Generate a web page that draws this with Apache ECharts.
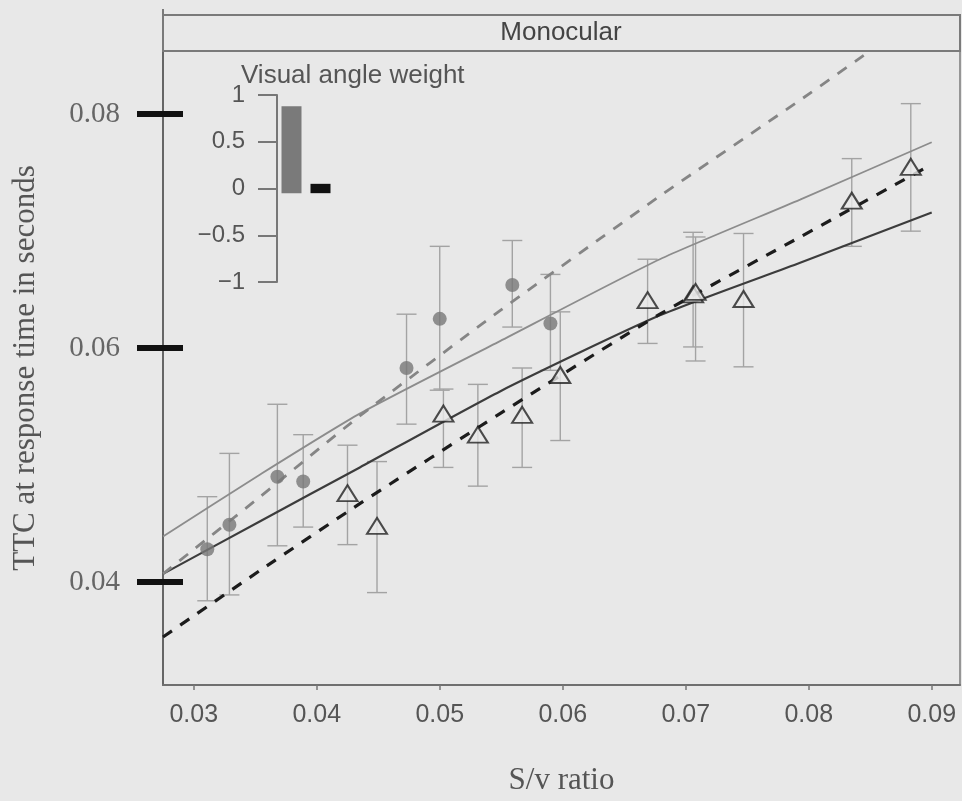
<!DOCTYPE html>
<html>
<head>
<meta charset="utf-8">
<script src="https://cdn.jsdelivr.net/npm/echarts@6.0.0/dist/echarts.min.js"></script>
<style>
  html, body { margin: 0; background: #e8e8e8; }
  #chart { width: 962px; height: 801px; }
</style>
</head>
<body>
<div id="chart"></div>
<script>
// 数据
var xTicks = [0.03, 0.04, 0.05, 0.06, 0.07, 0.08, 0.09];
var yTicks = [0.04, 0.06, 0.08];

// filled grey circles
var circleX  = [0.0311, 0.0329, 0.0368, 0.0389, 0.0473, 0.0500, 0.0559, 0.0590];
var circleY  = [0.0428, 0.0449, 0.0490, 0.0486, 0.0583, 0.0625, 0.0654, 0.0621];
var circleHi = [0.0473, 0.0510, 0.0552, 0.0526, 0.0629, 0.0687, 0.0692, 0.0663];
var circleLo = [0.0384, 0.0389, 0.0431, 0.0447, 0.0535, 0.0564, 0.0618, 0.0581];

// open triangles
var triX  = [0.0425, 0.0449, 0.0503, 0.0531, 0.0567, 0.0598, 0.0669, 0.0706, 0.0708, 0.0747, 0.0835, 0.0883];
var triY  = [0.0476, 0.0448, 0.0544, 0.0526, 0.0543, 0.0577, 0.0641, 0.0646, 0.0648, 0.0642, 0.0726, 0.0755];
var triHi = [0.0517, 0.0503, 0.0565, 0.0569, 0.0583, 0.0631, 0.0676, 0.0699, 0.0695, 0.0698, 0.0762, 0.0809];
var triLo = [0.0432, 0.0391, 0.0498, 0.0482, 0.0498, 0.0521, 0.0604, 0.0601, 0.0589, 0.0584, 0.0687, 0.0700];

// fitted lines
var fitX       = [0.0275, 0.0354, 0.0435, 0.0549, 0.0679, 0.0793, 0.0900];
var greySolidY = [0.0439, 0.0492, 0.0544, 0.0606, 0.0676, 0.0727, 0.0776];
var darkSolidY = [0.0407, 0.0452, 0.0498, 0.0563, 0.0628, 0.0673, 0.0716];
var blackDashY = [0.0353, 0.0410, 0.0467, 0.0544, 0.0629, 0.0695, 0.0757];
var greyDashX  = [0.0275, 0.0354, 0.0435, 0.0549, 0.0679, 0.0793, 0.0847];
var greyDashY  = [0.0407, 0.0473, 0.0542, 0.0632, 0.0730, 0.0812, 0.0852];

// inset: visual angle weight
var weightCats   = ['grey', 'black'];
var weightValues = [0.88, 0.05];
var weightBase   = -0.05;

var SANS = 'Liberation Sans';
var SERIF = 'Liberation Serif';

function pairs(xs, ys) {
  return xs.map(function (x, i) { return [x, ys[i]]; });
}
function bars(xs, lo, hi) {
  return xs.map(function (x, i) { return [x, lo[i], hi[i]]; });
}

// 误差线
function errorBar(color) {
  return function (params, api) {
    var x = api.value(0);
    var lo = api.coord([x, api.value(1)]);
    var hi = api.coord([x, api.value(2)]);
    var half = 10;
    var style = { stroke: color, lineWidth: 1.4 };
    return {
      type: 'group',
      children: [
        { type: 'line', shape: { x1: lo[0], y1: lo[1], x2: hi[0], y2: hi[1] }, style: style },
        { type: 'line', shape: { x1: hi[0] - half, y1: hi[1], x2: hi[0] + half, y2: hi[1] }, style: style },
        { type: 'line', shape: { x1: lo[0] - half, y1: lo[1], x2: lo[0] + half, y2: lo[1] }, style: style }
      ]
    };
  };
}

var chart = echarts.init(document.getElementById('chart'), null, { renderer: 'canvas' });

option = {
  backgroundColor: '#e8e8e8',
  animation: false,
  title: {
    text: 'Visual angle weight',
    left: 236,
    top: 58,
    textStyle: { fontFamily: SANS, fontSize: 26, fontWeight: 'normal', color: '#555' }
  },
  grid: [
    { left: 163, right: 2, top: 51, bottom: 113, show: true, borderColor: '#7a7a7a', borderWidth: 1.5 },
    { left: 277, top: 95, width: 58, height: 187 }
  ],
  xAxis: [
    {
      type: 'value',
      gridIndex: 0,
      min: 0.0275,
      max: 0.0923,
      name: 'S/v ratio',
      nameLocation: 'middle',
      nameGap: 80,
      nameTextStyle: { fontFamily: SERIF, fontSize: 31, color: '#555' },
      splitLine: { show: false },
      axisLine: { lineStyle: { color: '#6f6f6f', width: 2 } },
      axisTick: { customValues: xTicks, length: 5, lineStyle: { color: '#777', width: 1.5 } },
      axisLabel: {
        customValues: xTicks,
        margin: 18,
        fontFamily: SANS,
        fontSize: 25,
        color: '#555',
        formatter: function (v) { return v.toFixed(2); }
      }
    },
    {
      type: 'category',
      gridIndex: 1,
      data: weightCats,
      show: false
    }
  ],
  yAxis: [
    {
      type: 'value',
      gridIndex: 0,
      min: 0.0312,
      max: 0.0854,
      name: 'TTC at response time in seconds',
      nameLocation: 'middle',
      nameGap: 122,
      nameTextStyle: { fontFamily: SERIF, fontSize: 31, color: '#555' },
      splitLine: { show: false },
      axisLine: { show: true, lineStyle: { color: '#666', width: 2 } },
      axisTick: { show: true, customValues: yTicks, length: 26, lineStyle: { color: '#111', width: 6 } },
      axisLabel: {
        customValues: yTicks,
        margin: 43,
        fontFamily: SERIF,
        fontSize: 29,
        color: '#666',
        formatter: function (v) { return v.toFixed(2); }
      }
    },
    {
      // inside half of the heavy tick marks
      type: 'value',
      gridIndex: 0,
      position: 'left',
      min: 0.0312,
      max: 0.0854,
      splitLine: { show: false },
      axisLine: { show: false },
      axisTick: { show: true, inside: true, customValues: yTicks, length: 20, lineStyle: { color: '#111', width: 6 } },
      axisLabel: { show: false }
    },
    {
      type: 'value',
      gridIndex: 1,
      min: -1,
      max: 1,
      interval: 0.5,
      splitLine: { show: false },
      axisLine: { show: true, lineStyle: { color: '#777', width: 2 } },
      axisTick: { show: true, length: 19, lineStyle: { color: '#777', width: 2 } },
      axisLabel: {
        margin: 32,
        fontFamily: SANS,
        fontSize: 24,
        color: '#555',
        formatter: function (v) { return String(v).replace('-', '\u2212'); }
      }
    }
  ],
  graphic: [
    {
      type: 'rect',
      shape: { x: 163, y: 15, width: 797, height: 36 },
      style: { fill: '#e8e8e8', stroke: '#7a7a7a', lineWidth: 2 },
      z: 10
    },
    {
      type: 'line',
      shape: { x1: 163, y1: 9, x2: 163, y2: 15 },
      style: { stroke: '#7a7a7a', lineWidth: 2 },
      z: 10
    },
    {
      type: 'text',
      x: 561,
      y: 33,
      style: {
        text: 'Monocular',
        fontFamily: SANS,
        fontSize: 26,
        fill: '#444',
        align: 'center',
        verticalAlign: 'middle'
      },
      z: 11
    }
  ],
  series: [
    {
      name: 'circle errors',
      type: 'custom',
      xAxisIndex: 0,
      yAxisIndex: 0,
      renderItem: errorBar('#a3a3a3'),
      encode: { x: 0, y: [1, 2] },
      data: bars(circleX, circleLo, circleHi),
      z: 1
    },
    {
      name: 'triangle errors',
      type: 'custom',
      xAxisIndex: 0,
      yAxisIndex: 0,
      renderItem: errorBar('#a3a3a3'),
      encode: { x: 0, y: [1, 2] },
      data: bars(triX, triLo, triHi),
      z: 1
    },
    {
      name: 'grey solid',
      type: 'line',
      data: pairs(fitX, greySolidY),
      smooth: 0.2,
      showSymbol: false,
      lineStyle: { color: '#8c8c8c', width: 1.8 },
      z: 2
    },
    {
      name: 'dark solid',
      type: 'line',
      data: pairs(fitX, darkSolidY),
      smooth: 0.2,
      showSymbol: false,
      lineStyle: { color: '#3c3c3c', width: 2.2 },
      z: 2
    },
    {
      name: 'black dashed',
      type: 'line',
      data: pairs(fitX, blackDashY),
      smooth: 0.2,
      showSymbol: false,
      lineStyle: { color: '#1c1c1c', width: 3.2, type: [11, 10] },
      z: 2
    },
    {
      name: 'grey dashed',
      type: 'line',
      data: pairs(greyDashX, greyDashY),
      smooth: 0.2,
      showSymbol: false,
      lineStyle: { color: '#858585', width: 2.8, type: [11, 10] },
      z: 2
    },
    {
      name: 'circles',
      type: 'scatter',
      data: pairs(circleX, circleY),
      symbol: 'circle',
      symbolSize: 14,
      itemStyle: { color: '#777' },
      z: 3
    },
    {
      name: 'triangles',
      type: 'scatter',
      data: pairs(triX, triY),
      symbol: 'triangle',
      symbolSize: [20, 16],
      itemStyle: { color: '#e8e8e8', borderColor: '#222', borderWidth: 2 },
      z: 3
    },
    {
      name: 'weight base',
      type: 'bar',
      xAxisIndex: 1,
      yAxisIndex: 2,
      stack: 'w',
      stackStrategy: 'all',
      barWidth: 20,
      data: weightCats.map(function () { return weightBase; }),
      itemStyle: { color: 'rgba(0,0,0,0)' },
      silent: true
    },
    {
      name: 'weight',
      type: 'bar',
      xAxisIndex: 1,
      yAxisIndex: 2,
      stack: 'w',
      stackStrategy: 'all',
      barWidth: 20,
      data: weightValues.map(function (v, i) {
        return { value: v - weightBase, itemStyle: { color: i === 0 ? '#7a7a7a' : '#111' } };
      })
    }
  ]
};

chart.setOption(option);
</script>
</body>
</html>
